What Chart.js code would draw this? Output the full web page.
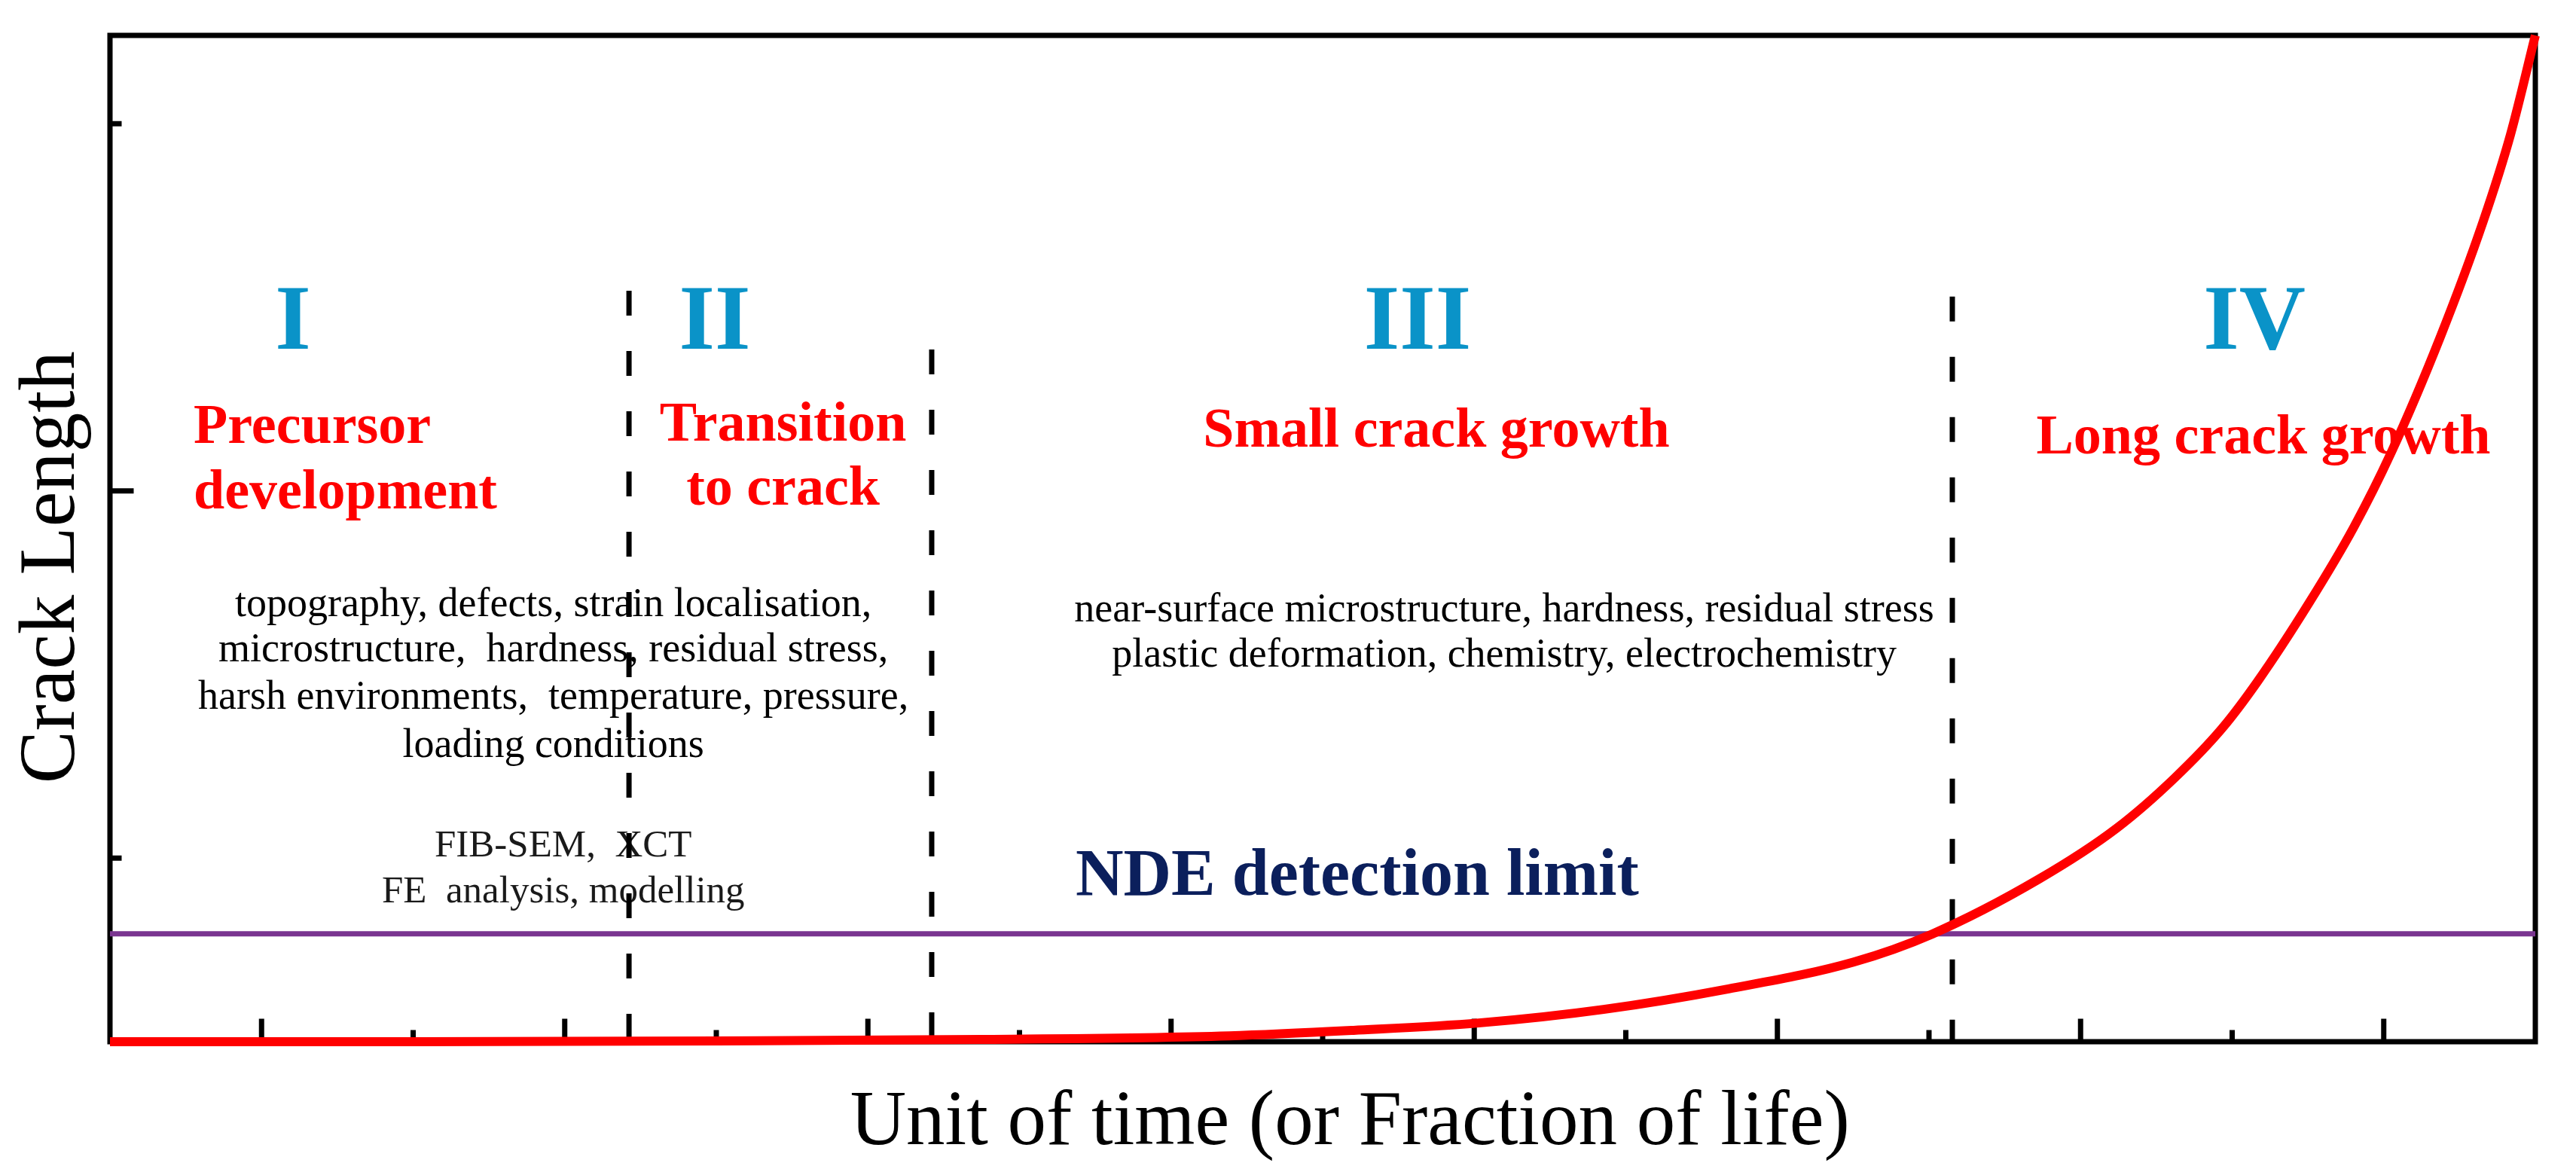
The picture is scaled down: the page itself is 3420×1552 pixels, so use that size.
<!DOCTYPE html>
<html>
<head>
<meta charset="utf-8">
<script src="https://cdn.jsdelivr.net/npm/chart.js@4.4.1/dist/chart.umd.min.js"></script>
<style>
html,body{margin:0;padding:0;background:#ffffff;}
canvas{display:block;}
</style>
</head>
<body>
<canvas id="c" width="3420" height="1552"></canvas>
<script>
// ---------------- data ----------------
const curveX = [0, 2, 4, 5.734, 7.384, 8.204, 9.029, 9.853, 10.678, 11.503, 12.020, 12.726, 13.237, 13.620, 13.933, 14.166, 14.509, 14.801, 15.051, 15.374, 15.657, 15.836, 16];
const curveY = [0, 0, 0.002, 0.006, 0.016, 0.031, 0.051, 0.088, 0.144, 0.217, 0.293, 0.443, 0.581, 0.718, 0.853, 0.980, 1.196, 1.400, 1.606, 1.920, 2.235, 2.470, 2.7405];

const ndeX = [0, 16];
const ndeY = [0.294, 0.294];

const boundaryX = [3.424, 5.421, 12.154];
const boundaryTop = [2.045, 1.885, 2.029];

const xTickValues = [1, 2, 3, 4, 5, 6, 7, 8, 9, 10, 11, 12, 13, 14, 15];
const xTickMajor  = [true, false, true, false, true, false, true, false, true, false, true, false, true, false, true];
const yTickValues = [0.5, 1.5, 2.5];
const yTickMajor  = [false, true, false];

const xTitle = 'Unit of time (or Fraction of life)';
const yTitle = 'Crack Length';
const stageNumerals = ['I', 'II', 'III', 'IV'];
const stageNames = [['Precursor', 'development'], ['Transition', 'to crack'], ['Small crack growth'], ['Long crack growth']];
const earlyFactors = ['topography, defects, strain localisation,', 'microstructure,  hardness, residual stress,', 'harsh environments,  temperature, pressure,', 'loading conditions'];
const earlyMethods = ['FIB-SEM,  XCT', 'FE  analysis, modelling'];
const smallCrackFactors = ['near-surface microstructure, hardness, residual stress', 'plastic deformation, chemistry, electrochemistry'];
const ndeLabel = 'NDE detection limit';

// ---------------- layout of annotations (data units) ----------------
const numeralPos = [{x:1.207,y:1.887},{x:3.990,y:1.887},{x:8.626,y:1.887},{x:14.147,y:1.887}];
const namePos = [
  {x:0.552, y:[1.631,1.452], align:'left'},
  {x:4.440, y:[1.637,1.463], align:'center'},
  {x:8.750, y:[1.621], align:'center'},
  {x:14.206, y:[1.602], align:'center'}
];
const earlyFactorsPos = {x:2.925, y:[1.159,1.036,0.907,0.775]};
const earlyMethodsPos = {x:2.990, y:[0.505,0.379]};
const smallFactorsPos = {x:9.198, y:[1.145,1.022]};
const ndePos = {x:6.370, y:0.400};

const SERIF = '"Liberation Serif", "Times New Roman", "DejaVu Serif", serif';

const decor = {
  id: 'decor',
  beforeDatasetsDraw(chart) {
    const {ctx, chartArea: a, scales: {x, y}} = chart;
    ctx.save();
    // frame
    ctx.strokeStyle = '#000';
    ctx.lineWidth = 7;
    ctx.lineJoin = 'miter';
    ctx.strokeRect(a.left, a.top, a.right - a.left, a.bottom - a.top);
    // inward ticks
    ctx.lineCap = 'butt';
    xTickValues.forEach((v, i) => {
      const px = x.getPixelForValue(v);
      const len = xTickMajor[i] ? 27 : 12;
      ctx.beginPath(); ctx.moveTo(px, a.bottom); ctx.lineTo(px, a.bottom - 3.5 - len); ctx.stroke();
    });
    yTickValues.forEach((v, i) => {
      const py = y.getPixelForValue(v);
      const len = yTickMajor[i] ? 28 : 12;
      ctx.beginPath(); ctx.moveTo(a.left, py); ctx.lineTo(a.left + 3.5 + len, py); ctx.stroke();
    });

    ctx.textBaseline = 'alphabetic';
    // stage numerals
    ctx.fillStyle = '#0A93C8';
    ctx.font = 'bold 122px ' + SERIF;
    ctx.textAlign = 'center';
    stageNumerals.forEach((t, i) => {
      ctx.fillText(t, x.getPixelForValue(numeralPos[i].x), y.getPixelForValue(numeralPos[i].y));
    });
    // stage names
    ctx.fillStyle = '#FF0000';
    ctx.font = 'bold 74px ' + SERIF;
    stageNames.forEach((lines, i) => {
      const p = namePos[i];
      ctx.textAlign = p.align;
      lines.forEach((t, j) => ctx.fillText(t, x.getPixelForValue(p.x), y.getPixelForValue(p.y[j])));
    });
    // factor texts
    ctx.fillStyle = '#000';
    ctx.textAlign = 'center';
    ctx.font = '54px ' + SERIF;
    earlyFactors.forEach((t, j) => ctx.fillText(t, x.getPixelForValue(earlyFactorsPos.x), y.getPixelForValue(earlyFactorsPos.y[j])));
    smallCrackFactors.forEach((t, j) => ctx.fillText(t, x.getPixelForValue(smallFactorsPos.x), y.getPixelForValue(smallFactorsPos.y[j])));
    ctx.fillStyle = '#1a1a1a';
    ctx.font = '51px ' + SERIF;
    earlyMethods.forEach((t, j) => ctx.fillText(t, x.getPixelForValue(earlyMethodsPos.x), y.getPixelForValue(earlyMethodsPos.y[j])));
    // NDE label
    ctx.fillStyle = '#0B1F5C';
    ctx.font = 'bold 88px ' + SERIF;
    ctx.textAlign = 'left';
    ctx.fillText(ndeLabel, x.getPixelForValue(ndePos.x), y.getPixelForValue(ndePos.y));
    // axis titles
    ctx.fillStyle = '#000';
    ctx.font = '103px ' + SERIF;
    ctx.textAlign = 'center';
    ctx.fillText(xTitle, x.getPixelForValue(8.18), a.bottom + 136);
    ctx.save();
    ctx.font = '105px ' + SERIF;
    ctx.translate(a.left - 48, y.getPixelForValue(1.292));
    ctx.rotate(-Math.PI / 2);
    ctx.fillText(yTitle, 0, 0);
    ctx.restore();
    ctx.restore();
  }
};

const toPts = (xs, ys) => xs.map((v, i) => ({x: v, y: ys[i]}));

const datasets = [
  {label: 'Crack length', data: toPts(curveX, curveY), borderColor: '#FF0000', borderWidth: 12,
   pointRadius: 0, cubicInterpolationMode: 'monotone', clip: false, fill: false},
  {label: 'NDE detection limit', data: toPts(ndeX, ndeY), borderColor: '#7A3590', borderWidth: 7,
   pointRadius: 0, clip: false, fill: false}
];
boundaryX.forEach((bx, i) => {
  datasets.push({label: 'Stage boundary ' + (i + 1), data: [{x: bx, y: boundaryTop[i]}, {x: bx, y: 0}],
    borderColor: '#000', borderWidth: 7, borderDash: [33, 47], borderCapStyle: 'butt',
    pointRadius: 0, clip: false, fill: false});
});

new Chart(document.getElementById('c'), {
  type: 'line',
  data: {datasets},
  options: {
    responsive: false,
    devicePixelRatio: 1,
    animation: false,
    layout: {padding: {left: 146, top: 47, right: 54, bottom: 169}},
    plugins: {legend: {display: false}, tooltip: {enabled: false}},
    elements: {line: {tension: 0}},
    scales: {
      x: {type: 'linear', min: 0, max: 16, display: false},
      y: {type: 'linear', min: 0, max: 2.7405, display: false}
    }
  },
  plugins: [decor]
});
</script>
</body>
</html>
